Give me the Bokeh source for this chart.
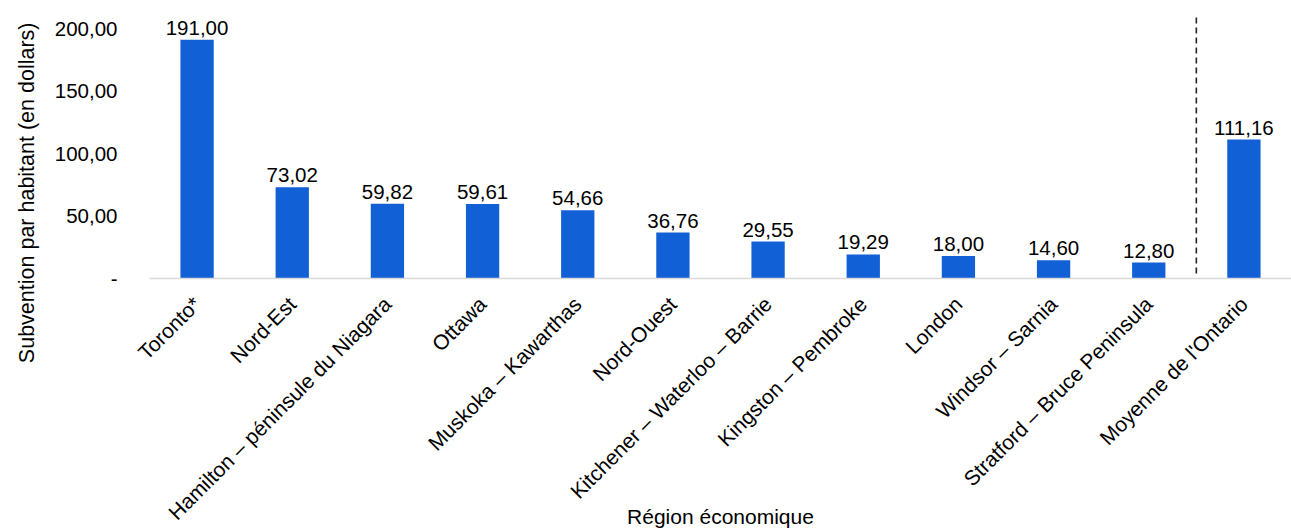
from bokeh.plotting import figure
from bokeh.models import ColumnDataSource, FixedTicker, LabelSet, Title
from bokeh.embed import file_html
from bokeh.resources import INLINE
from bokeh.core.properties import value
import math

categories = [
    "Toronto*", "Nord-Est", "Hamilton – péninsule du Niagara", "Ottawa",
    "Muskoka – Kawarthas", "Nord-Ouest", "Kitchener – Waterloo – Barrie",
    "Kingston – Pembroke", "London", "Windsor – Sarnia",
    "Stratford – Bruce Peninsula", "Moyenne de l'Ontario",
]
values = [191.00, 73.02, 59.82, 59.61, 54.66, 36.76, 29.55, 19.29, 18.00, 14.60, 12.80, 111.16]
y_ticks = [0, 50, 100, 150, 200]
y_tick_labels = ["-", "50,00", "100,00", "150,00", "200,00"]
y_title = "Subvention par habitant (en dollars)"
x_title = "Région économique"

FONT = "Liberation Sans"
BLUE = "#1260D6"

labels = [f"{v:.2f}".replace(".", ",") for v in values]
src = ColumnDataSource(dict(cat=categories, val=values, lab=labels))

p = figure(x_range=categories, y_range=(0, 214.4), width=1291, height=531,
           output_backend="svg", toolbar_location=None, title=None,
           min_border_left=148, min_border_right=0, min_border_top=10,
           min_border_bottom=253, outline_line_color=None)

p.vbar(x="cat", top="val", width=0.35, source=src, color=BLUE, line_color=None)

# separator between regions and the provincial average
sep_x = len(categories) - 1
p.segment(x0=[sep_x], x1=[sep_x], y0=[4], y1=[212], line_color="#222222",
          line_width=1.6, line_dash="6 4")

p.add_layout(LabelSet(x="cat", y="val", text="lab", source=src, text_align="center",
                      text_baseline="alphabetic", y_offset=5, text_font_size="20.5px",
                      text_font=value(FONT), text_color="#000000"))

p.xgrid.visible = False
p.ygrid.visible = False

xa = p.xaxis[0]
xa.axis_line_color = "#d9d9d9"
xa.axis_line_width = 1.5
xa.major_tick_line_color = None
xa.minor_tick_line_color = None
xa.major_label_orientation = math.pi / 4
xa.major_label_text_font_size = "21px"
xa.major_label_text_font = FONT
xa.major_label_text_color = "#000000"
xa.major_label_standoff = 16
xa.axis_label = x_title
xa.axis_label_text_font_size = "21px"
xa.axis_label_text_font = FONT
xa.axis_label_text_font_style = "normal"
xa.axis_label_text_color = "#000000"
xa.axis_label_standoff = -30

ya = p.yaxis[0]
ya.ticker = FixedTicker(ticks=y_ticks)
ya.major_label_overrides = dict(zip(y_ticks, y_tick_labels))
ya.axis_line_color = None
ya.major_tick_line_color = None
ya.minor_tick_line_color = None
ya.major_label_text_font_size = "20.5px"
ya.major_label_text_font = FONT
ya.major_label_text_color = "#000000"
ya.major_label_standoff = 26

p.add_layout(Title(text=y_title, align="right", offset=12, standoff=25,
                   text_font_size="21.5px", text_font=FONT, text_font_style="normal",
                   text_color="#000000"), "left")

open("out.html", "w").write(file_html(p, INLINE))
